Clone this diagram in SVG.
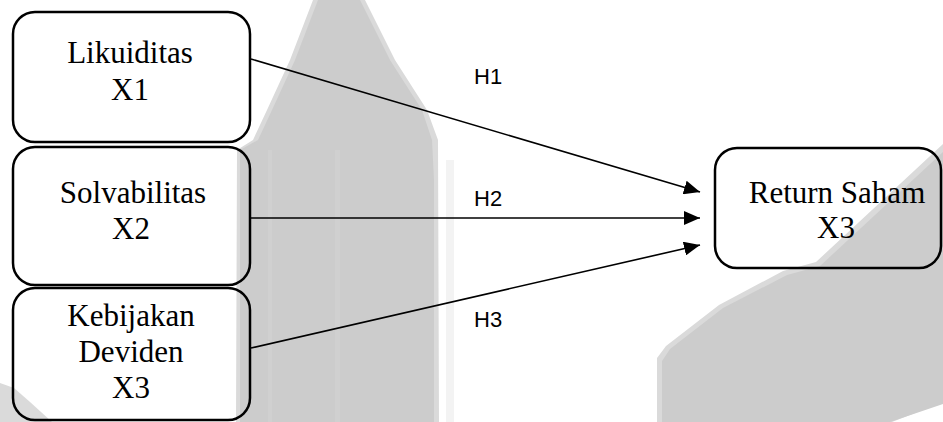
<svg xmlns="http://www.w3.org/2000/svg" width="943" height="422" viewBox="0 0 943 422">
<defs>
<style>
.box{fill:none;stroke:#000;stroke-width:2.5}
.t{font-family:"Liberation Serif","Times New Roman",serif;font-size:31px;fill:#000;text-anchor:middle}
.h{font-family:"Liberation Sans",Arial,sans-serif;font-size:22px;fill:#000}
.c{stroke:#000;stroke-width:1.6;fill:none;marker-end:url(#ah)}
.wm{fill:#cccccc}
.wl{fill:#dadada}
</style>
<marker id="ah" viewBox="0 0 16 14" refX="16" refY="7" markerWidth="16" markerHeight="14" markerUnits="userSpaceOnUse" orient="auto">
<path d="M0,0 L16,7 L0,14 Z" fill="#000"/>
</marker>
</defs>
<rect width="943" height="422" fill="#fff"/>
<g id="watermark">
<path class="wl" d="M313,0 L365,0 L395,60 L427,110 L438,140 L439,422 L236,422 L237,150 L253,140 L267,110 L290,60 Z"/>
<path class="wm" d="M318,0 L360,0 L390,60 L422,110 L432,140 L434,180 L434,422 L240,422 L240,150 L258,140 L272,110 L295,60 Z"/>
<rect x="268" y="150" width="4" height="272" fill="#d0d0d0"/>
<rect x="335" y="150" width="5" height="272" fill="#d0d0d0"/>
<rect x="446" y="160" width="8" height="262" fill="#f3f3f3"/>
<path class="wl" d="M943,144 L816,262 L783,271 L719,305 L666,346 L657,358 L657,422 L892,422 L943,402 Z"/>
<path class="wm" d="M943,152 L820,266 L787,275 L723,308 L670,349 L662,361 L662,422 L890,422 L943,404 Z"/>
<path class="wl" d="M0,383 L14,388 L30,402 L52,422 L0,422 Z"/>
</g>
<g id="node-likuiditas">
<rect class="box" x="13" y="12" width="237" height="130" rx="22"/>
<text class="t" x="130" y="63">Likuiditas</text>
<text class="t" x="130" y="100">X1</text>
</g>
<g id="node-solvabilitas">
<rect class="box" x="13" y="147" width="237" height="138" rx="22"/>
<text class="t" x="133" y="203">Solvabilitas</text>
<text class="t" x="131" y="239">X2</text>
</g>
<g id="node-kebijakan">
<rect class="box" x="13" y="288" width="237" height="132" rx="22"/>
<text class="t" x="131" y="326">Kebijakan</text>
<text class="t" x="131" y="362">Deviden</text>
<text class="t" x="131" y="398">X3</text>
</g>
<g id="node-return">
<rect class="box" x="715" y="148" width="226" height="120" rx="22"/>
<text class="t" x="837" y="203">Return Saham</text>
<text class="t" x="836" y="238">X3</text>
</g>
<g id="connectors">
<line class="c" x1="251" y1="59" x2="700" y2="192"/>
<line class="c" x1="251" y1="218" x2="700" y2="218"/>
<line class="c" x1="251" y1="348" x2="700" y2="245"/>
<text class="h" x="474" y="84">H1</text>
<text class="h" x="474" y="206">H2</text>
<text class="h" x="474" y="327">H3</text>
</g>
</svg>
